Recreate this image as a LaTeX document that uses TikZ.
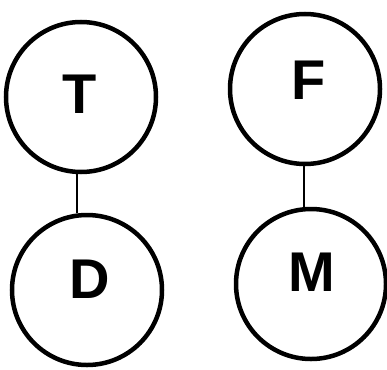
\documentclass[tikz,border=0pt]{standalone}
\usepackage{fontspec}
\setmainfont{Liberation Sans}
\begin{document}
\begin{tikzpicture}[x=1pt,y=-1pt,
  circ/.style={draw=black,line width=4.5pt,circle,minimum size=150pt,inner sep=0pt},
  lbl/.style={font=\fontsize{56}{56}\selectfont\bfseries,inner sep=0pt},
  link/.style={draw=black,line width=2pt}]
\useasboundingbox (0,0) rectangle (387,369);
\node[circ] (T) at (81,97) {};
\node[circ] (F) at (305,89) {};
\node[circ] (D) at (87,290) {};
\node[circ] (M) at (311,284) {};
\node[lbl] (tT) at (80,94) {T};
\node[lbl] (tF) at (309,80) {F};
\node[lbl] (tD) at (90,279) {D};
\node[lbl] (tM) at (312,272) {M};
\draw[link] (T.south -| 77,0) -- (D.north -| 77,0);
\draw[link] (F.south -| 304,0) -- (M.north -| 304,0);
\end{tikzpicture}
\end{document}
